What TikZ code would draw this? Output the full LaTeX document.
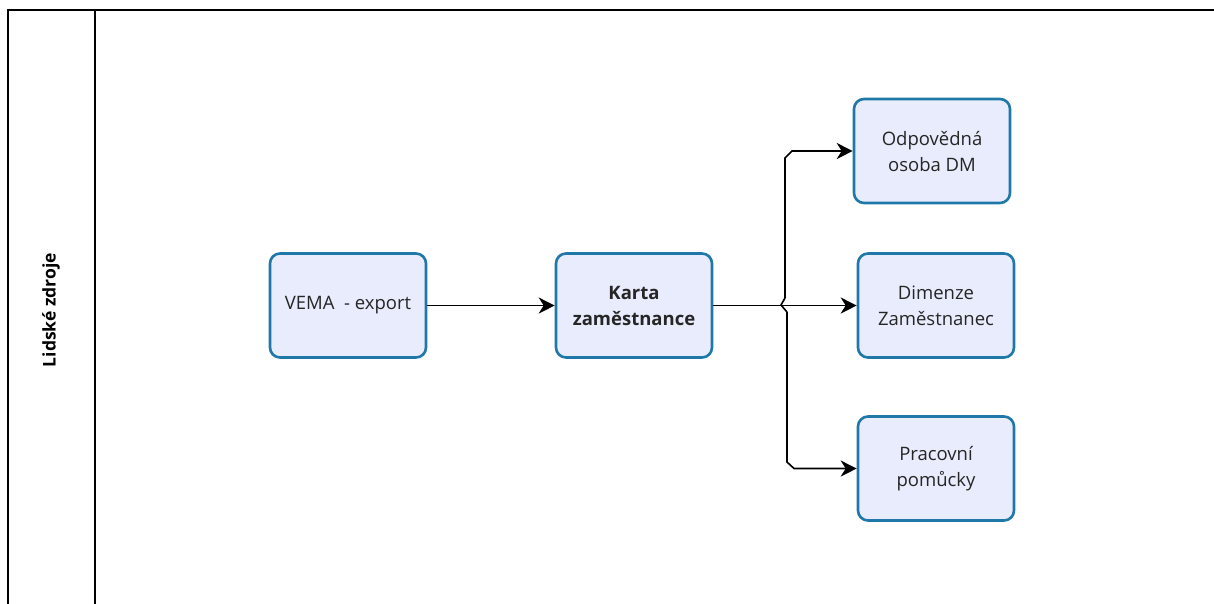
\documentclass[tikz,border=0pt]{standalone}
\usepackage{fontspec}
\setmainfont{Open Sans}
\usetikzlibrary{arrows.meta}
\definecolor{boxfill}{HTML}{E8ECFC}
\definecolor{boxline}{HTML}{1F78A8}
\tikzset{
  proc/.style={draw=boxline, fill=boxfill, line width=2.6pt, rounded corners=10pt,
    minimum width=156pt, minimum height=104pt, align=center, font=\fontsize{18.5}{26}\selectfont, text=black!85},
  conn/.style={line width=1.6pt, -{Stealth[length=16pt,width=16pt,inset=5pt]}},
  frame/.style={line width=1.5pt, draw=black}
}
\begin{document}
\begin{tikzpicture}[x=1pt,y=-1pt]
\useasboundingbox (0,0) rectangle (1214,603);
\draw[frame] (8,610) -- (8,10) -- (1220,10);
\draw[frame] (95,10) -- (95,610);
\node[rotate=90, font=\bfseries\fontsize{17.5}{20}\selectfont] (lane) at (51,310) {Lidské zdroje};

\node[proc] (vema) at (348,305.5) {VEMA\ \ - export};
\node[proc, font=\bfseries\fontsize{18.5}{26}\selectfont] (karta) at (634,305.5) {Karta\\zaměstnance};
\node[proc] (odp) at (932,151) {Odpovědná\\osoba DM};
\node[proc] (dim) at (936,305.5) {Dimenze\\Zaměstnanec};
\node[proc] (prac) at (936,468.5) {Pracovní\\pomůcky};

\coordinate (hopT) at (785,298);
\coordinate (hopB) at (787,312);
\draw[conn] (vema.east) -- (karta.west);
\draw[conn] (karta.east) -- (dim.west);
\draw[line width=1.6pt] (hopT) -- (781,305) -- (hopB);
\draw[conn] (hopT) -- (785,158) -- (792,151) -- (odp.west);
\draw[conn] (hopB) -- (787,462) -- (794,468.5) -- (prac.west);
\end{tikzpicture}
\end{document}
